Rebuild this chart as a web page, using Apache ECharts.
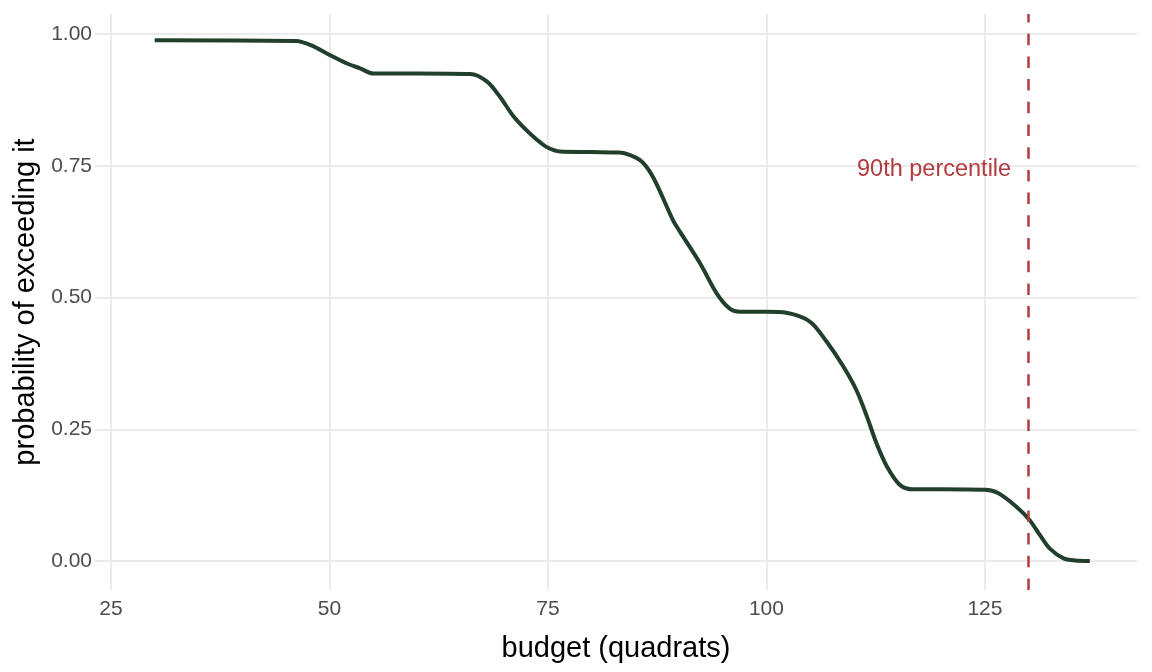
<!DOCTYPE html>
<html>
<head>
<meta charset="utf-8">
<script src="https://cdn.jsdelivr.net/npm/echarts@6/dist/echarts.min.js"></script>
<style>
  html, body { margin: 0; padding: 0; background: #fff; }
  #chart { width: 1152px; height: 672px; }
</style>
</head>
<body>
<div id="chart"></div>
<script>
// budget (quadrats) vs probability of exceeding it
const budget = [30, 46.2, 48, 49.7, 52, 53.5, 55, 60, 66.1, 68, 69.5, 71, 72.5, 73.7, 74.9, 76.4, 80, 83.2, 85.5, 87, 89.3, 90.1, 92.4, 94.3, 95.8, 97, 100, 102.3, 105, 106.9, 108.8, 110.3, 111.5, 112.6, 113.8, 115.3, 116.8, 120, 125, 126.5, 128.6, 130.1, 131.3, 132.4, 134, 135.3, 137];
const prob = [0.988, 0.987, 0.978, 0.963, 0.944, 0.935, 0.925, 0.925, 0.924, 0.91, 0.881, 0.845, 0.818, 0.8, 0.785, 0.777, 0.776, 0.775, 0.761, 0.729, 0.647, 0.625, 0.565, 0.508, 0.479, 0.473, 0.473, 0.471, 0.454, 0.416, 0.369, 0.324, 0.274, 0.223, 0.179, 0.144, 0.136, 0.136, 0.135, 0.129, 0.103, 0.078, 0.049, 0.024, 0.005, 0.001, 0.0];
const xTicks = [25, 50, 75, 100, 125];
const yTicks = [0, 0.25, 0.5, 0.75, 1];
const percentile90 = 130;
const percentileLabel = '90th percentile';

const chart = echarts.init(document.getElementById('chart'));
const font = 'Liberation Sans, Arial, sans-serif';
const gridColor = '#ebebeb';
const red = '#b13b3e';

chart.setOption({
  animation: false,
  grid: { left: 95, right: 15, top: 14, bottom: 82 },
  xAxis: {
    type: 'value',
    min: 23.17,
    max: 142.4,
    name: 'budget (quadrats)',
    nameLocation: 'middle',
    nameGap: 44,
    nameTextStyle: { color: '#000', fontSize: 29, fontFamily: font },
    axisLine: { show: false },
    axisTick: { show: false, customValues: xTicks },
    axisLabel: { customValues: xTicks, color: '#4d4d4d', fontSize: 21, fontFamily: font, margin: 9 },
    splitLine: { show: true, lineStyle: { color: gridColor, width: 2 } },
  },
  yAxis: {
    type: 'value',
    min: -0.055,
    max: 1.038,
    name: 'probability of exceeding it',
    nameLocation: 'middle',
    nameGap: 47,
    nameTextStyle: { color: '#000', fontSize: 29, fontFamily: font },
    axisLine: { show: false },
    axisTick: { show: false, customValues: yTicks },
    axisLabel: {
      customValues: yTicks,
      color: '#4d4d4d', fontSize: 21, fontFamily: font, margin: 3,
      formatter: v => v.toFixed(2),
    },
    splitLine: { show: true, lineStyle: { color: gridColor, width: 2 } },
  },
  series: [
    {
      type: 'line',
      data: budget.map((b, i) => [b, prob[i]]),
      smooth: 0.3,
      symbol: 'none',
      lineStyle: { color: '#213f2c', width: 4 },
      z: 3,
      markLine: {
        silent: true,
        symbol: 'none',
        label: { show: false },
        lineStyle: { color: red, width: 2.5, type: [11.5, 11.2] },
        data: [{ xAxis: percentile90 }],
      },
      markPoint: {
        silent: true,
        symbol: 'circle',
        symbolSize: 0,
        label: {
          show: true,
          position: 'left',
          distance: 0,
          formatter: percentileLabel,
          color: red,
          fontSize: 23.5,
          fontFamily: font,
        },
        data: [{ coord: [128, 0.743] }],
      },
    },
  ],
});
</script>
</body>
</html>
